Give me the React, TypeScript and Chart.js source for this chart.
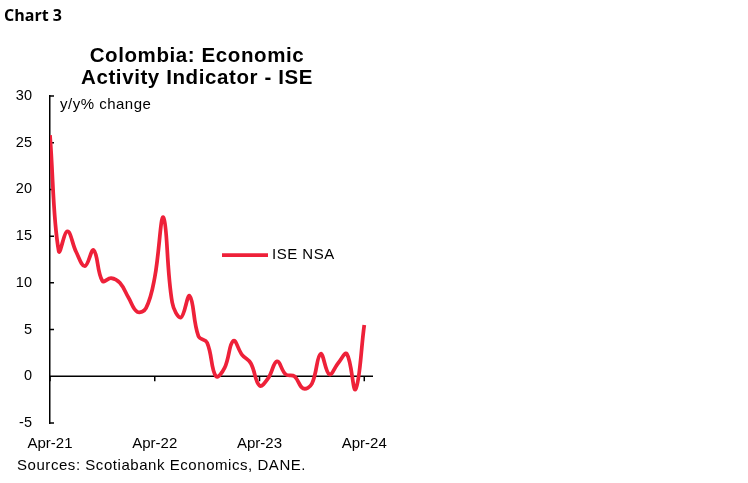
import { useEffect, useRef } from "react";
import { Chart, registerables } from "chart.js";

Chart.register(...registerables);

// monthly, Apr-21 .. Apr-24
const months = [
  "Apr-21", "May-21", "Jun-21", "Jul-21", "Aug-21", "Sep-21", "Oct-21", "Nov-21", "Dec-21",
  "Jan-22", "Feb-22", "Mar-22", "Apr-22", "May-22", "Jun-22", "Jul-22", "Aug-22", "Sep-22",
  "Oct-22", "Nov-22", "Dec-22", "Jan-23", "Feb-23", "Mar-23", "Apr-23", "May-23", "Jun-23",
  "Jul-23", "Aug-23", "Sep-23", "Oct-23", "Nov-23", "Dec-23", "Jan-24", "Feb-24", "Mar-24",
  "Apr-24",
];
const iseNsa = [
  25.8, 13.4, 15.5, 13.3, 11.8, 13.5, 10.2, 10.5, 10.0,
  8.4, 6.9, 7.3, 10.6, 17.0, 7.9, 6.3, 8.6, 4.3,
  3.6, 0.0, 0.9, 3.8, 2.3, 1.4, -1.0, -0.2, 1.6,
  0.2, 0.0, -1.3, -0.8, 2.4, 0.2, 1.4, 2.4, -1.4,
  5.5,
];
const xTickIdx = [0, 12, 24, 36];
const yTicks = [-5, 0, 5, 10, 15, 20, 25, 30];

const RED = "#EE2139";
const FONT = "'Liberation Sans', Arial, sans-serif";

const overlay = {
  id: "overlay",
  beforeDatasetsDraw(chart: any) {
    const { ctx, chartArea, scales } = chart;
    const y0 = scales.y.getPixelForValue(0);
    ctx.save();
    ctx.strokeStyle = "#000";
    ctx.lineWidth = 1.5;
    ctx.beginPath();
    ctx.moveTo(chartArea.left, y0);
    ctx.lineTo(chartArea.right, y0);
    for (const v of xTickIdx) {
      const px = scales.x.getPixelForValue(v);
      ctx.moveTo(px, y0);
      ctx.lineTo(px, y0 + 5);
    }
    // inward ticks on the value axis
    for (const v of yTicks) {
      const py = scales.y.getPixelForValue(v);
      ctx.moveTo(chartArea.left, py);
      ctx.lineTo(chartArea.left + 4, py);
    }
    ctx.stroke();
    ctx.restore();
  },
  afterDraw(chart: any) {
    const ctx = chart.ctx;
    ctx.save();
    ctx.fillStyle = "#000";
    ctx.textBaseline = "alphabetic";

    ctx.font = "bold 16px 'Open Sans', sans-serif";
    ctx.textAlign = "left";
    ctx.fillText("Chart 3", 4, 21);

    ctx.font = `bold 20.5px ${FONT}`;
    ctx.letterSpacing = "0.6px";
    ctx.textAlign = "center";
    ctx.fillText("Colombia: Economic", 197, 62);
    ctx.fillText("Activity Indicator - ISE", 197, 84);

    ctx.font = `15px ${FONT}`;
    ctx.textAlign = "left";
    ctx.letterSpacing = "0.5px";
    ctx.fillText("y/y% change", 60, 109);
    ctx.letterSpacing = "0.55px";
    ctx.fillText("Sources: Scotiabank Economics, DANE.", 17, 470);

    // legend
    ctx.strokeStyle = RED;
    ctx.lineWidth = 3.75;
    ctx.beginPath();
    ctx.moveTo(222, 255);
    ctx.lineTo(268, 255);
    ctx.stroke();
    ctx.textBaseline = "middle";
    ctx.letterSpacing = "0.5px";
    ctx.fillText("ISE NSA", 272, 255);
    ctx.restore();
  },
};

export default function App() {
  const canvasRef = useRef<HTMLCanvasElement>(null);

  useEffect(() => {
    document.body.style.margin = "0";
    if (!canvasRef.current) return;

    const chart = new Chart(canvasRef.current, {
      type: "line",
      data: {
        datasets: [
          {
            label: "ISE NSA",
            data: iseNsa.map((v, i) => ({ x: i, y: v })),
            borderColor: RED,
            backgroundColor: RED,
            borderWidth: 3.75,
            pointRadius: 0,
            tension: 0.4,
            fill: false,
          },
        ],
      },
      options: {
        animation: false,
        responsive: true,
        maintainAspectRatio: false,
        layout: { padding: { top: 96, right: 375, bottom: 0, left: 0 } },
        plugins: {
          legend: { display: false },
          tooltip: { enabled: false },
        },
        scales: {
          x: {
            type: "linear",
            min: 0,
            max: 37,
            grid: { display: false, drawTicks: false },
            border: { display: false },
            afterBuildTicks: (scale: any) => {
              scale.ticks = xTickIdx.map((v) => ({ value: v }));
            },
            afterFit: (scale: any) => {
              scale.height = 60;
            },
            ticks: {
              padding: 12,
              maxRotation: 0,
              autoSkip: false,
              color: "#000",
              font: { size: 15, family: FONT },
              callback: (v: any) => months[v as number],
            },
          },
          y: {
            min: -5,
            max: 30,
            grid: { display: false, drawTicks: false },
            border: { display: true, color: "#000", width: 1.5 },
            afterFit: (scale: any) => {
              scale.width = 50;
            },
            ticks: {
              stepSize: 5,
              padding: 18,
              color: "#000",
              font: { size: 14.5, family: FONT },
            },
          },
        },
      },
      plugins: [overlay],
    });

    return () => chart.destroy();
  }, []);

  return (
    <div style={{ position: "relative", width: 748, height: 483, background: "#fff" }}>
      <canvas ref={canvasRef} />
    </div>
  );
}
